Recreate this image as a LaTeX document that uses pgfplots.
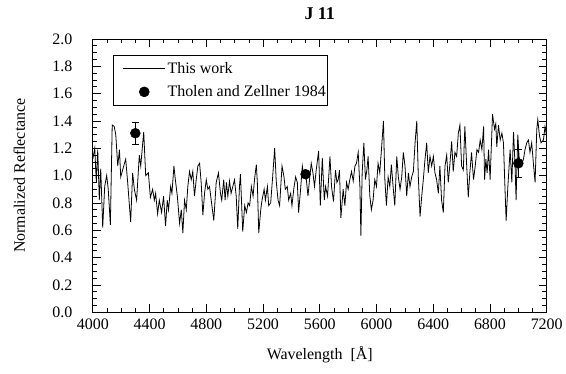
\documentclass[border=0pt]{standalone}
\usepackage{fontspec}
\setmainfont{Liberation Serif}
\usepackage{pgfplots}
\usepackage{pgfplotstable}
\pgfplotsset{compat=1.18}

% legend samples: a long line, and a single centred dot, both with a left margin
\pgfplotsset{
  longline legend/.style={legend image code/.code={\path (0pt,0pt); \draw[##1] (10pt,0pt) -- (52pt,0pt);}},
  dot legend/.style={legend image code/.code={\path (0pt,0pt) (52pt,0pt); \draw[##1, only marks] plot coordinates {(31pt,0pt)};}},
}

% Reflectance spectrum of J 11, normalized
\pgfplotstableread{
lambda R
4000 1.12
4014 1.20
4025 0.95
4035 1.19
4046 0.82
4056 1.05
4070 0.62
4084 0.92
4098 1.00
4109 0.90
4124 0.64
4137 1.37
4151 1.36
4162 1.30
4176 1.07
4188 1.19
4197 0.99
4218 1.07
4232 1.12
4246 0.95
4267 0.66
4281 1.02
4293 0.90
4309 0.82
4328 1.15
4338 1.07
4359 1.32
4373 1.00
4392 1.02
4406 0.84
4422 0.90
4434 0.82
4443 0.87
4457 0.72
4469 0.82
4485 0.73
4499 0.85
4513 0.63
4525 0.82
4534 0.75
4549 0.92
4558 0.87
4572 1.07
4582 0.97
4596 0.85
4612 0.65
4624 0.75
4635 0.58
4647 0.82
4659 0.75
4670 0.92
4682 1.03
4694 0.97
4705 1.03
4717 0.85
4729 0.97
4741 1.07
4753 1.09
4764 0.95
4776 0.71
4788 0.87
4800 0.97
4811 0.90
4823 0.92
4835 0.82
4853 0.67
4870 0.95
4886 1.02
4900 0.87
4909 0.82
4923 0.97
4933 0.82
4942 0.95
4952 0.85
4964 0.96
4975 0.87
4987 0.92
4999 0.97
5011 0.85
5022 0.61
5034 0.92
5041 1.01
5057 0.59
5071 0.78
5083 0.73
5095 0.80
5106 0.78
5118 0.92
5130 0.85
5141 0.98
5153 1.08
5160 0.95
5170 0.58
5184 0.75
5193 0.82
5208 0.90
5217 0.82
5231 0.92
5240 0.78
5254 0.80
5268 0.99
5282 1.20
5294 0.95
5306 0.82
5317 0.78
5334 1.07
5348 0.99
5357 0.90
5371 0.92
5381 0.82
5395 0.87
5404 0.78
5418 0.91
5430 0.99
5442 0.95
5451 0.73
5465 0.90
5477 1.07
5484 1.02
5499 1.04
5517 0.85
5528 0.97
5540 1.09
5552 1.02
5563 0.92
5575 1.04
5592 1.18
5604 0.78
5618 1.13
5632 0.82
5641 0.92
5655 0.85
5672 1.14
5683 0.92
5697 0.81
5711 1.04
5721 0.95
5730 0.97
5739 1.04
5749 0.69
5765 0.90
5777 0.78
5789 0.95
5800 0.90
5812 0.97
5824 1.03
5836 0.96
5848 1.07
5859 1.09
5871 1.17
5883 0.92
5890 0.56
5899 1.02
5911 1.24
5922 0.97
5932 1.04
5941 1.14
5953 0.85
5964 0.75
5976 0.82
5988 0.97
6000 0.92
6011 1.09
6023 1.02
6035 1.19
6049 1.40
6059 0.97
6070 0.78
6082 0.99
6094 0.92
6105 1.08
6117 0.92
6129 0.78
6143 1.14
6154 0.99
6166 0.90
6178 0.99
6189 1.17
6201 1.07
6213 0.85
6225 1.02
6236 0.92
6248 0.99
6260 1.03
6272 1.24
6284 1.40
6295 0.99
6307 0.70
6319 0.85
6330 0.97
6342 1.12
6354 1.24
6365 1.02
6377 1.14
6389 1.07
6401 1.14
6412 1.02
6424 0.97
6436 0.87
6447 1.07
6459 0.82
6471 0.73
6483 1.07
6495 1.15
6506 0.95
6518 1.09
6530 1.25
6541 1.03
6553 1.17
6565 1.14
6577 1.31
6588 1.37
6600 1.07
6612 1.04
6623 1.36
6635 1.09
6647 0.84
6658 1.02
6670 1.17
6684 0.97
6696 1.07
6708 1.19
6720 1.17
6731 1.26
6743 1.19
6755 1.36
6762 0.97
6771 1.12
6780 1.02
6790 1.19
6801 0.97
6818 1.45
6832 1.34
6841 1.38
6848 1.21
6860 1.37
6872 1.26
6884 1.31
6895 1.24
6907 0.87
6914 0.67
6926 0.92
6935 1.07
6942 1.19
6954 0.95
6966 1.32
6977 1.07
6984 0.82
6996 1.30
7005 1.14
7019 1.07
7036 1.12
7047 1.19
7059 1.24
7071 1.26
7082 1.17
7094 1.24
7106 1.09
7118 0.95
7130 1.34
7137 1.41
7149 1.29
7160 1.24
7177 1.26
7188 1.36
7200 1.28
}\spectrum

% ECAS colours (Tholen and Zellner 1984)
\pgfplotstableread{
lambda R err
4300 1.31 0.08
5500 1.01 0.02
7000 1.09 0.10
}\ecas

\begin{document}
\begin{tikzpicture}
\begin{axis}[
  at={(0pt,0pt)}, anchor=south west,
  scale only axis, width=455pt, height=274pt,
  xmin=4000, xmax=7200, ymin=0, ymax=2,
  xtick={4000,4400,4800,5200,5600,6000,6400,6800,7200},
  ytick={0,0.2,0.4,0.6,0.8,1.0,1.2,1.4,1.6,1.8,2.0},
  minor x tick num=3, minor y tick num=3,
  tick align=inside,
  major tick length=8pt, minor tick length=4.5pt,
  axis line style={line width=0.8pt},
  every tick/.style={black, line width=0.6pt},
  /pgf/number format/assume math mode=true,
  ticklabel style={font=\fontsize{16}{19}\selectfont},
  xticklabel style={/pgf/number format/1000 sep={}, yshift=-3pt},
  yticklabel style={/pgf/number format/.cd, fixed, fixed zerofill, precision=1, /tikz/.cd, xshift=-17pt},
  xlabel={Wavelength\ \ [Å]},
  xlabel style={font=\fontsize{16}{19}\selectfont, at={(axis description cs:0.5,-0.1715)}, anchor=base},
  ylabel={Normalized Reflectance},
  ylabel style={font=\fontsize{16}{19}\selectfont, at={(axis description cs:-0.1495,0.5)}, anchor=base},
  title={\textbf{J 11}},
  title style={font=\fontsize{18}{21}\selectfont, at={(axis description cs:0.5,1.05)}, anchor=base},
  legend style={at={(axis description cs:0.044,0.942)}, anchor=north west,
    draw=black, line width=0.6pt, font=\fontsize{16}{19}\selectfont,
    inner xsep=0pt, inner ysep=5pt, row sep=7pt},
  legend cell align=left,
]
\addlegendimage{black, line width=0.6pt, longline legend}
\addlegendentry{This work}
\addlegendimage{black, mark=*, mark size=5pt, dot legend}
\addlegendentry{Tholen and Zellner 1984}

\addplot[black, line width=0.8pt, forget plot] table[x=lambda, y=R] {\spectrum};
\addplot[black, only marks, mark=*, mark size=5pt, forget plot,
  error bars/.cd, y dir=both, y explicit,
  error bar style={line width=0.6pt},
  error mark options={rotate=90, mark size=3.5pt, line width=0.6pt}]
  table[x=lambda, y=R, y error=err] {\ecas};
\end{axis}
\useasboundingbox (-93pt,-61pt) rectangle (473pt,313pt);
\end{tikzpicture}
\end{document}
